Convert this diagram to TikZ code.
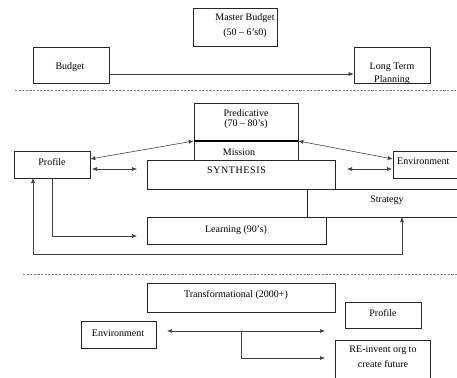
\documentclass[tikz,border=0pt]{standalone}
\usepackage{fontspec}
\setmainfont{Liberation Serif}
\usetikzlibrary{arrows.meta}
\begin{document}
\begin{tikzpicture}[x=1pt,y=-1pt,
  box/.style={draw=black!85, line width=0.6pt, inner sep=0pt},
  openbox/.style={inner sep=0pt},
  edge/.style={draw=black!85, line width=0.6pt},
  lbl/.style={inner sep=0pt, font=\fontsize{10}{12}\selectfont},
  conn/.style={draw=black!75, line width=0.6pt},
  tip/.style={-{Latex[length=5pt,width=4pt]}},
  both/.style={{Latex[length=5pt,width=4pt]}-{Latex[length=5pt,width=4pt]}},
  sep/.style={draw=black!50, line width=0.7pt, dash pattern=on 2.2pt off 1.4pt}]
\useasboundingbox (0,0) rectangle (457,377);
\clip (0,0) rectangle (457,377);
% boxes
\node[box, minimum width=84pt, minimum height=38pt] (master) at (235,27) {};
\node[box, minimum width=76pt, minimum height=36pt] (budget) at (71,65) {};
\node[box, minimum width=76pt, minimum height=36pt] (ltp) at (392,65) {};
\node[box, minimum width=104pt, minimum height=57pt] (pred) at (246,131.5) {};
\node[box, minimum width=76pt, minimum height=27pt] (profile) at (52,164.5) {};
\node[box, minimum width=188pt, minimum height=29pt] (synth) at (241,174.5) {};
\node[openbox, minimum width=120pt, minimum height=27pt] (env) at (453,164.5) {};
\draw[edge] (env.north east) -- (env.north west) -- (env.south west) -- (env.south east);
\node[openbox, minimum width=200pt, minimum height=28pt] (strat) at (407,203) {};
\draw[edge] (strat.north east) -- (strat.north west) -- (strat.south west) -- (strat.south east);
\node[box, minimum width=179pt, minimum height=27pt] (learn) at (236.5,230.5) {};
\node[box, minimum width=188pt, minimum height=29pt] (trans) at (241,297.5) {};
\node[box, minimum width=76pt, minimum height=26pt] (prof2) at (383,315) {};
\node[box, minimum width=75pt, minimum height=27pt] (env2) at (118.5,334.5) {};
\node[openbox, minimum width=95pt, minimum height=50pt] (reinv) at (382.5,365) {};
\draw[edge] (reinv.south west) -- (reinv.north west) -- (reinv.north east) -- (reinv.south east);
\draw[black, line width=1.3pt] (pred.west |- 0,141) -- (pred.east |- 0,141);
% texts
\node[lbl] (tmaster) at (245,18) {Master Budget};
\node[lbl] (tmaster2) at (245,33) {(50 – 6’s0)};
\node[lbl] (tbudget) at (70,67) {Budget};
\node[lbl] (tltp) at (392,67) {Long Term};
\node[lbl] (tltp2) at (392,80) {Planning};
\node[lbl] (tpred) at (246,113) {Predicative};
\node[lbl] (tpred2) at (246,124) {(70 – 80’s)};
\node[lbl] (tmission) at (239,152) {Mission};
\node[lbl] (tprofile) at (52,162) {Profile};
\node[lbl] (tsynth) at (236.5,170) {\addfontfeature{LetterSpace=6}SYNTHESIS};
\node[lbl, anchor=west] (tenv) at (397,161) {Environment};
\node[lbl] (tstrat) at (387,200) {Strategy};
\node[lbl] (tlearn) at (236,230) {Learning (90’s)};
\node[lbl] (ttrans) at (236,295) {Transformational (2000+)};
\node[lbl] (tprof2) at (383,313) {Profile};
\node[lbl] (tenv2) at (118,333) {Environment};
\node[lbl] (treinv) at (383,350) {RE-invent org to};
\node[lbl] (treinv2) at (383,364) {create future};
% separators
\coordinate (s1a) at (15,90); \coordinate (s1b) at (457,90);
\coordinate (s2a) at (23,274); \coordinate (s2b) at (457,274);
\draw[sep] (s1a) -- (s1b);
\draw[sep] (s2a) -- (s2b);
% connectors
\coordinate (a1) at (budget.east |- 0,74);
\coordinate (a2) at (ltp.west |- 0,74);
\draw[conn, tip] (a1) -- (a2);
\coordinate (p1) at (profile.east |- 0,159);
\coordinate (p2) at (pred.west |- 0,141);
\draw[conn, both] (p1) -- (p2);
\coordinate (q1) at (92,169); \coordinate (q2) at (137,169);
\draw[conn, both] (q1) -- (q2);
\coordinate (r1) at (pred.east |- 0,141);
\coordinate (r2) at (env.west |- 0,159);
\draw[conn, both] (r1) -- (r2);
\coordinate (u1) at (347,169); \coordinate (u2) at (392,169);
\draw[conn, both] (u1) -- (u2);
\coordinate (l1) at (52,178); \coordinate (l2) at (137,236);
\draw[conn, tip] (l1) |- (l2);
\coordinate (f1) at (33,178); \coordinate (f2) at (33,254);
\coordinate (f3) at (402,254); \coordinate (f4) at (402,217);
\draw[conn, both] (f1) -- (f2) -- (f3) -- (f4);
\coordinate (e1) at (167,331); \coordinate (e2) at (325,331);
\draw[conn, both] (e1) -- (e2);
\coordinate (b1) at (241,331); \coordinate (b2) at (325,358);
\draw[conn, tip] (b1) |- (b2);
\end{tikzpicture}
\end{document}
